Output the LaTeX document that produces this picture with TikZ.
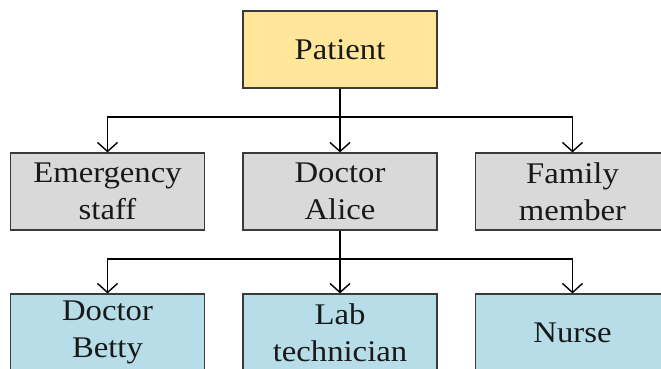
\documentclass[tikz,border=0pt]{standalone}
\usepackage{fontspec}
\setmainfont{Liberation Serif}
\newfontfamily\boxfont{Liberation Serif}[FakeStretch=1.09]
\usetikzlibrary{arrows.meta}
\definecolor{rootfill}{HTML}{FFE699}
\definecolor{midfill}{HTML}{D9D9D9}
\definecolor{leaffill}{HTML}{B7DEE8}
\definecolor{edgegray}{HTML}{3A3A3A}
\tikzset{
  box/.style={draw=edgegray, line width=1.2pt, minimum width=194pt, minimum height=77pt,
    inner sep=0pt, align=center, text=black!90,
    font=\boxfont\fontsize{30}{37}\selectfont},
  rootbox/.style={box, fill=rootfill},
  midbox/.style={box, fill=midfill},
  leafbox/.style={box, fill=leaffill},
  link/.style={draw=black, line width=1.6pt,
    -{Straight Barb[length=9pt,width=20pt,line width=1.4pt]}},
}
\begin{document}
\begin{tikzpicture}[x=1pt,y=-1pt]
  \useasboundingbox (0,0) rectangle (661,369);
  \clip (0,0) rectangle (661,369);
  \fill[white] (0,0) rectangle (661,369);

  % root
  \node[rootbox] (patient) at (340,49.5) {Patient};

  % second level
  \node[midbox] (emerg)  at (107.5,191.5) {Emergency\\staff};
  \node[midbox] (alice)  at (340,191.5)   {Doctor\\Alice};
  \node[midbox] (family) at (572.5,191.5) {Family\\member};

  % third level
  \node[leafbox] (betty) at (107.5,332.5) {Doctor\\Betty};
  \node[leafbox] (lab)   at (340,332.5)   {Lab\\technician};
  \node[leafbox] (nurse) at (572.5,332.5) {Nurse};

  % branching points
  \coordinate (j1) at (340,117);
  \coordinate (j2) at (340,259);

  \draw[link] (patient.south) -- (alice.north);
  \draw[link] (j1) -| (emerg.north);
  \draw[link] (j1) -| (family.north);

  \draw[link] (alice.south) -- (lab.north);
  \draw[link] (j2) -| (betty.north);
  \draw[link] (j2) -| (nurse.north);
\end{tikzpicture}
\end{document}
